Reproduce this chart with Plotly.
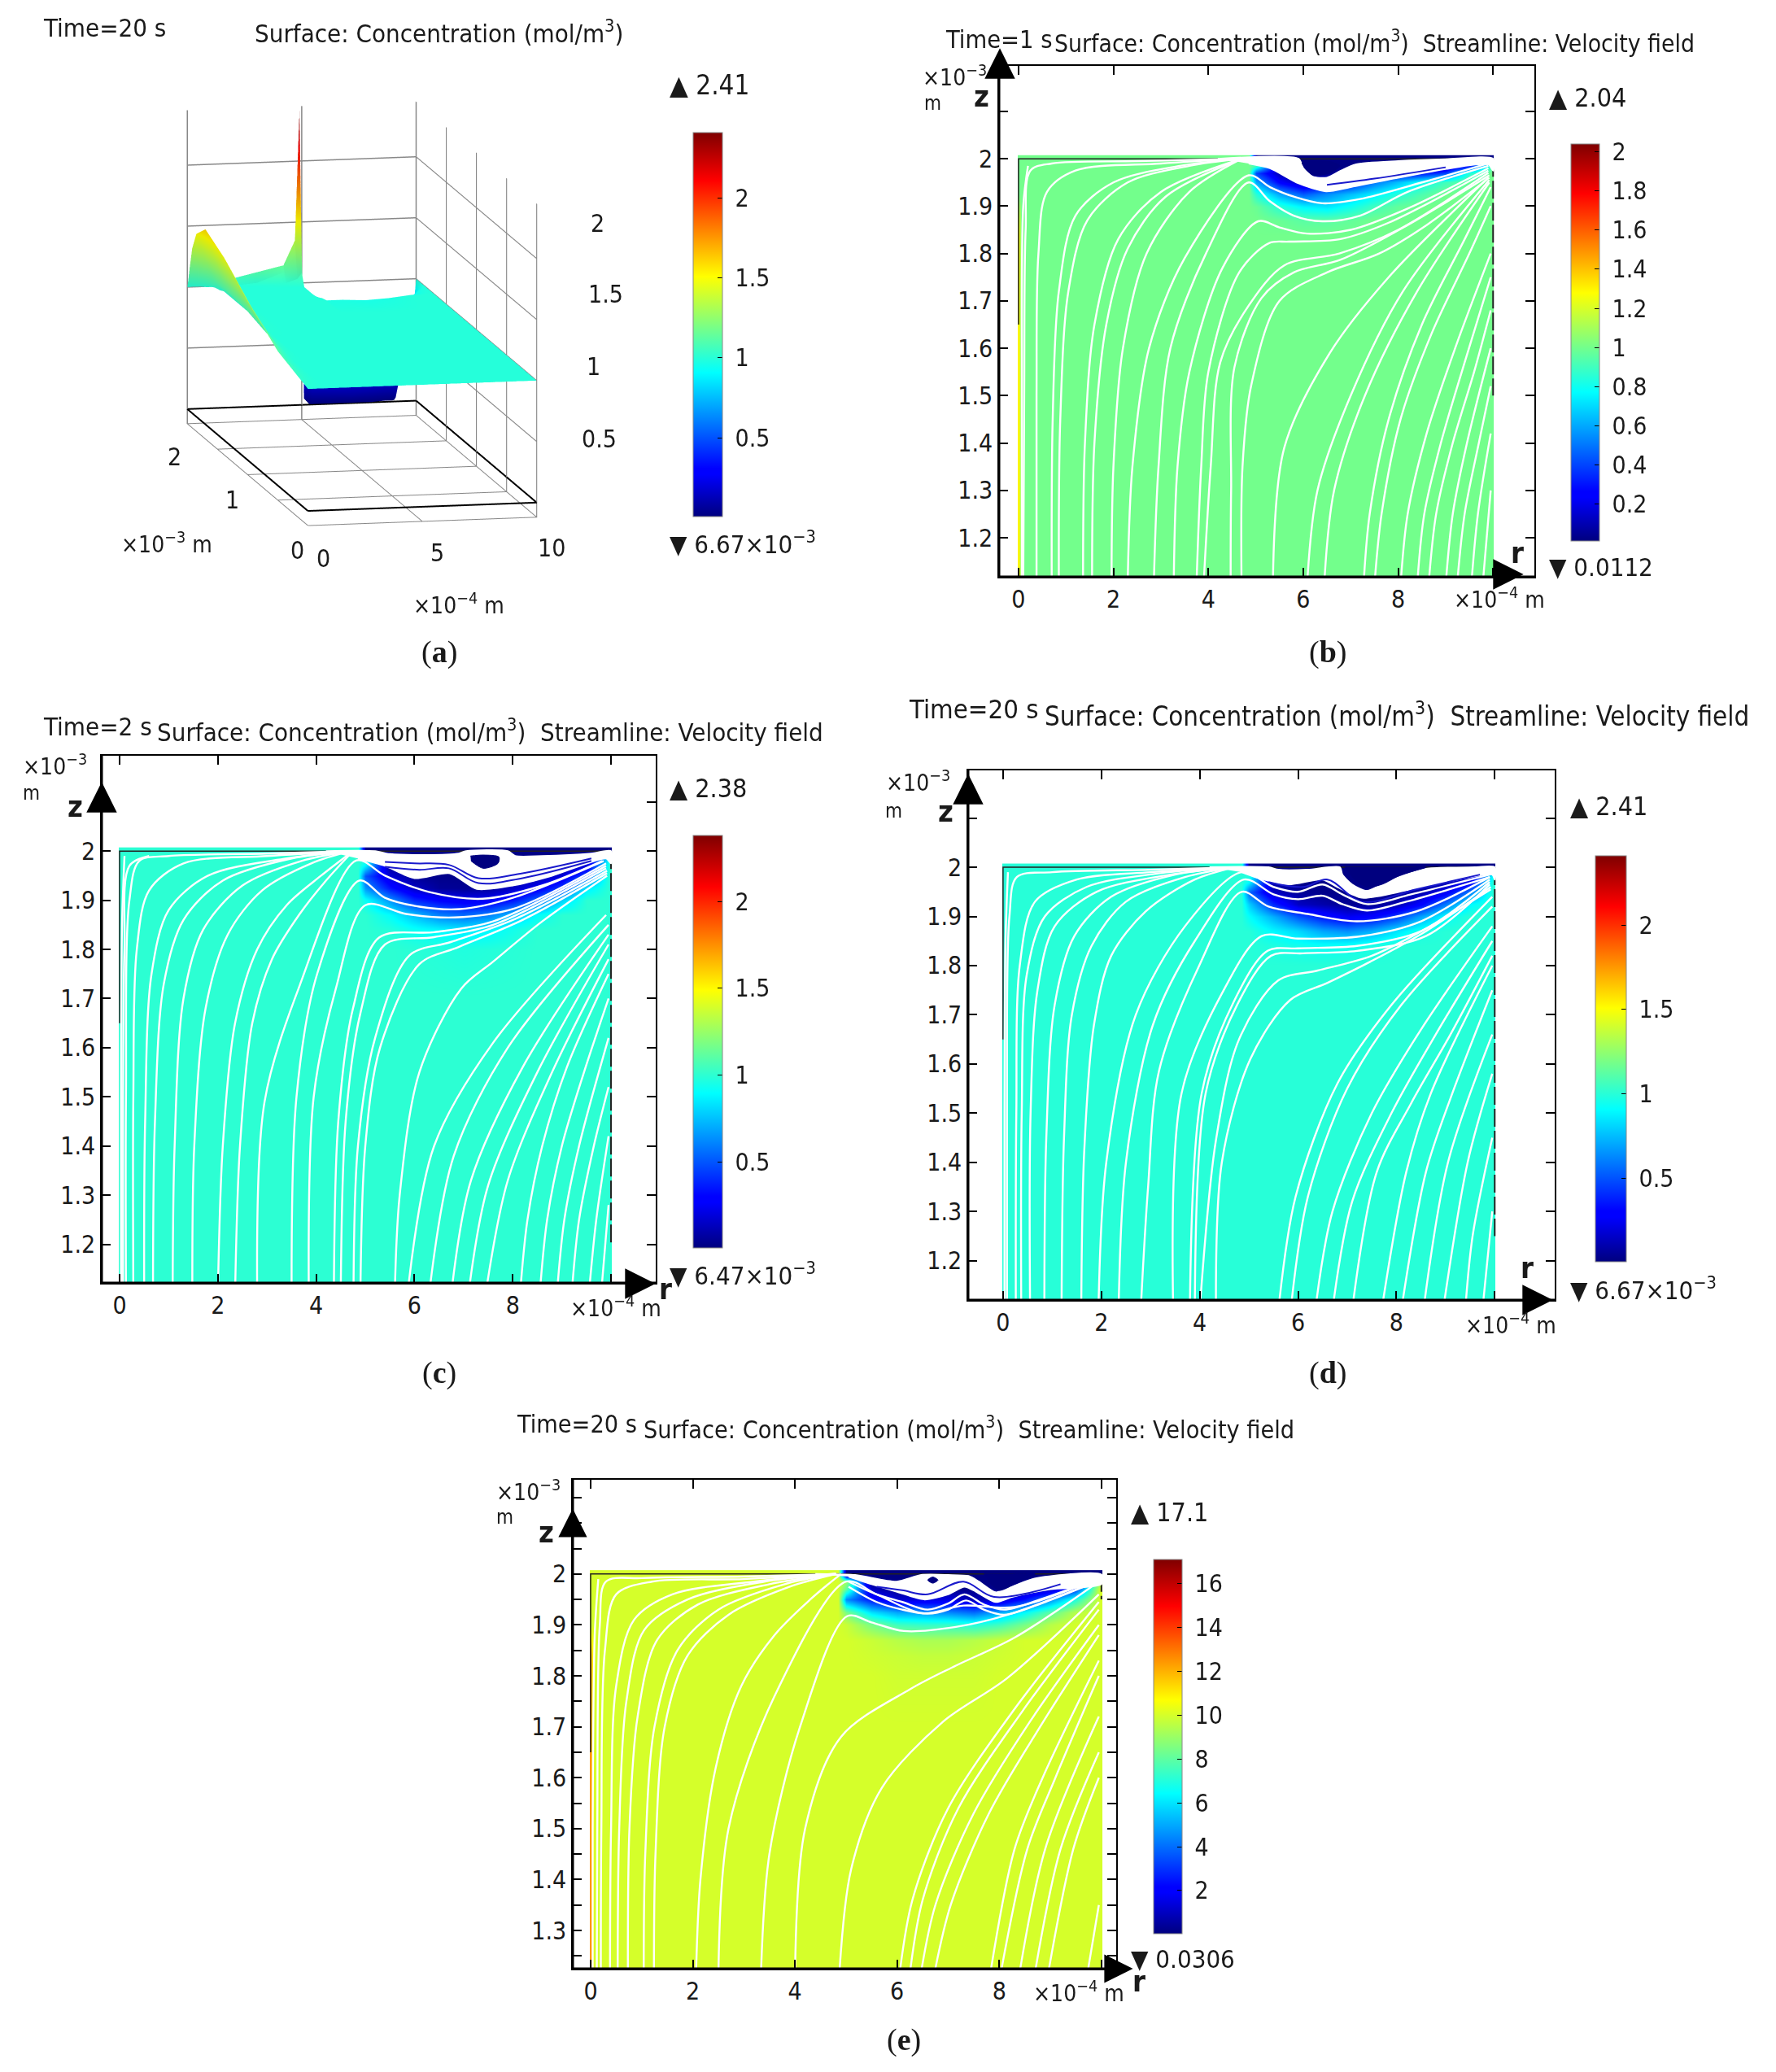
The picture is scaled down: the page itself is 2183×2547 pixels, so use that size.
import plotly.graph_objects as go

W, H = 2183, 2547
FONT = "DejaVu Sans Condensed"

# jet colours, the concentration colour bars
JET = [[0, "#00007f"], [0.11, "#0000ff"], [0.125, "#0000ff"], [0.375, "#00ffff"],
       [0.625, "#ffff00"], [0.875, "#ff0000"], [1, "#7f0000"]]

R_TICKS = [0, 2, 4, 6, 8, 10]
R_LABELS = ["0", "2", "4", "6", "8", ""]
Z_TICKS = [1.2, 1.3, 1.4, 1.5, 1.6, 1.7, 1.8, 1.9, 2.0, 2.1]
Z_LABELS = ["1.2", "1.3", "1.4", "1.5", "1.6", "1.7", "1.8", "1.9", "2", ""]
Z_TICKS_E = [1.25, 1.3, 1.35, 1.4, 1.45, 1.5, 1.55, 1.6, 1.65, 1.7, 1.75, 1.8, 1.85, 1.9, 1.95, 2.0, 2.05, 2.1, 2.15]
Z_LABELS_E = ["", "1.3", "", "1.4", "", "1.5", "", "1.6", "", "1.7", "", "1.8", "", "1.9", "", "2", "", "", ""]

CB_A = [0.5, 1, 1.5, 2]
CB_B = [0.2, 0.4, 0.6, 0.8, 1, 1.2, 1.4, 1.6, 1.8, 2]
CB_E = [2, 4, 6, 8, 10, 12, 14, 16]

# concentration field, rows go with Z_GRID, columns with R_GRID
R_GRID = [0, 0.03, 0.06, 4.85, 5, 5.5, 6, 6.5, 7, 7.5, 8, 8.5, 9, 9.5, 9.97, 10]
Z_GRID = [1.1, 1.7, 1.8, 1.84, 1.87, 1.9, 1.925, 1.95, 1.97, 1.985, 2.0]

FIELD_B = [
    [1.3, 1.1, 1, 1, 1, 1, 1, 1, 1, 1, 1, 1, 1, 1, 1, 1],
    [1.3, 1.1, 1, 1, 1, 1, 1, 1, 1, 1, 1, 1, 1, 1, 1, 1],
    [1.3, 1.1, 1, 1, 1, 1, 1, 1, 1, 1, 1, 1, 1, 1, 1, 1],
    [1.3, 1.1, 1, 1, 1, 1, 1, 1, 1, 1, 1, 1, 1, 1, 1, 1],
    [1.2, 1.1, 1, 1, 1, 0.98, 0.95, 0.95, 0.97, 1, 1, 1, 1, 1, 1, 1],
    [1.1, 1.05, 1, 1, 0.98, 0.85, 0.75, 0.72, 0.8, 0.9, 0.97, 1, 1, 1, 1, 1],
    [1, 1, 1, 1, 0.85, 0.6, 0.45, 0.55, 0.65, 0.75, 0.85, 0.93, 1, 1, 1, 1],
    [1, 1, 1, 1, 0.6, 0.25, 0.1, 0.2, 0.3, 0.5, 0.65, 0.8, 0.9, 0.98, 1, 1],
    [1, 1, 1, 1, 0.4, 0.1, 0.02, 0.02, 0.1, 0.2, 0.25, 0.3, 0.4, 0.85, 1, 1],
    [1, 1, 1, 1, 0.9, 0.1, 0.02, 0.02, 0.02, 0.02, 0.02, 0.02, 0.05, 0.3, 0.9, 1],
    [1, 1, 1, 1, 0.02, 0.02, 0.02, 0.02, 0.02, 0.02, 0.02, 0.02, 0.02, 0.02, 0.02, 0.02],
]
FIELD_C = [
    [1, 1, 1, 1, 1, 1, 1, 1, 1, 1, 1, 1, 1, 1, 1, 1],
    [1, 1, 1, 1, 1, 1, 1, 1, 1, 1, 1, 1, 1, 1, 1, 1],
    [1, 1, 1, 1, 1, 1, 0.99, 0.98, 0.97, 0.98, 0.99, 1, 1, 1, 1, 1],
    [1, 1, 1, 1, 1, 0.98, 0.92, 0.88, 0.85, 0.88, 0.94, 1, 1, 1, 1, 1],
    [1, 1, 1, 1, 1, 0.9, 0.75, 0.6, 0.55, 0.6, 0.75, 0.9, 1, 1, 1, 1],
    [1, 1, 1, 1, 0.92, 0.65, 0.4, 0.3, 0.25, 0.25, 0.35, 0.55, 0.8, 1, 1, 1],
    [1, 1, 1, 1, 0.65, 0.35, 0.15, 0.06, 0.05, 0.07, 0.15, 0.25, 0.45, 0.85, 1, 1],
    [1, 1, 1, 1, 0.5, 0.18, 0.05, 0.03, 0.03, 0.03, 0.05, 0.1, 0.2, 0.5, 1, 1],
    [1, 1, 1, 1, 0.85, 0.08, 0.02, 0.02, 0.02, 0.02, 0.02, 0.02, 0.05, 0.2, 1, 1],
    [1, 1, 1, 1, 1, 0.05, 0.02, 0.02, 0.02, 0.02, 0.02, 0.02, 0.02, 0.1, 0.9, 1],
    [1, 1, 1, 1, 0.02, 0.02, 0.02, 0.02, 0.02, 0.02, 0.02, 0.02, 0.02, 0.02, 0.02, 0.02],
]
FIELD_D = [
    [1, 1, 1, 1, 1, 1, 1, 1, 1, 1, 1, 1, 1, 1, 1, 1],
    [1, 1, 1, 1, 1, 1, 1, 1, 1, 1, 1, 1, 1, 1, 1, 1],
    [1, 1, 1, 1, 1, 1, 1, 1, 1, 1, 1, 1, 1, 1, 1, 1],
    [1, 1, 1, 1, 1, 0.98, 0.95, 0.93, 0.94, 0.97, 1, 1, 1, 1, 1, 1],
    [1, 1, 1, 1, 1, 0.9, 0.82, 0.7, 0.65, 0.72, 0.85, 0.97, 1, 1, 1, 1],
    [1, 1, 1, 1, 0.92, 0.72, 0.5, 0.35, 0.25, 0.3, 0.45, 0.7, 0.92, 1, 1, 1],
    [1, 1, 1, 1, 0.8, 0.4, 0.15, 0.1, 0.05, 0.05, 0.1, 0.3, 0.6, 0.9, 1, 1],
    [1, 1, 1, 1, 0.55, 0.15, 0.06, 0.03, 0.03, 0.03, 0.05, 0.1, 0.25, 0.6, 1, 1],
    [1, 1, 1, 1, 0.9, 0.08, 0.03, 0.03, 0.02, 0.02, 0.02, 0.03, 0.1, 0.25, 1, 1],
    [1, 1, 1, 1, 1, 0.05, 0.02, 0.02, 0.02, 0.02, 0.02, 0.02, 0.03, 0.1, 0.9, 1],
    [1, 1, 1, 1, 0.02, 0.02, 0.02, 0.02, 0.02, 0.02, 0.02, 0.02, 0.02, 0.02, 0.02, 0.02],
]
FIELD_E = [
    [12.5, 11, 10, 10, 10, 10, 10, 10, 10, 10, 10, 10, 10, 10, 10, 10],
    [12.5, 11, 10, 10, 10, 10, 10, 10, 10, 10, 10, 10, 10, 10, 10, 10],
    [12.5, 11, 10, 10, 10, 10, 9.9, 9.9, 9.9, 9.9, 10, 10, 10, 10, 10, 10],
    [12, 11, 10, 10, 10, 9.9, 9.8, 9.7, 9.7, 9.8, 9.9, 10, 10, 10, 10, 10],
    [11, 10.5, 10, 10, 10, 9.8, 9.5, 9.3, 9.3, 9.5, 9.8, 10, 10, 10, 10, 10],
    [10, 10, 10, 10, 9.8, 8.5, 7.5, 7.3, 7.3, 7, 7.5, 8.5, 9.5, 10, 10, 10],
    [10, 10, 10, 10, 8.5, 6, 5, 4.8, 4.5, 4, 5, 6.5, 8, 9.5, 10, 10],
    [10, 10, 10, 10, 4.5, 2.5, 1.2, 1.5, 1.5, 0.8, 1, 2.5, 4.5, 7, 10, 10],
    [10, 10, 10, 10, 8, 1, 0.3, 0.2, 0.2, 0.2, 0.2, 0.5, 1, 3, 10, 10],
    [10, 10, 10, 10, 9, 0.2, 0.1, 0.1, 0.1, 0.1, 0.1, 0.2, 0.4, 1, 9, 10],
    [10, 10, 10, 10, 0.05, 0.05, 0.05, 0.05, 0.05, 0.05, 0.05, 0.05, 0.05, 0.05, 0.05, 0.05],
]

# surface of panel (a)
R_A = [0, 0.15, 0.4, 0.8, 1.2, 1.8, 3, 4.2, 4.7, 4.9, 5.1, 5.3, 6, 7, 8, 9, 9.7, 10]
Z_A = [0, 0.5, 1, 1.4, 1.7, 1.85, 1.92, 1.96, 1.985, 2]
FIELD_A = [
    [1, 1, 1, 1, 1, 1, 1, 1, 1, 1, 1, 1, 1, 1, 1, 1, 1, 1],
    [1.1, 1.08, 1.03, 1, 1, 1, 1, 1, 1, 1, 1, 1, 1, 1, 1, 1, 1, 1],
    [1.3, 1.26, 1.15, 1.04, 1, 1, 1, 1, 1, 1, 1, 1, 1, 1, 1, 1, 1, 1],
    [1.5, 1.45, 1.3, 1.1, 1.02, 1, 1, 1, 1, 1, 1, 1, 1, 1, 1, 1, 1, 1],
    [1.6, 1.55, 1.35, 1.12, 1.02, 1, 1, 1, 1, 1, 1, 0.98, 0.98, 0.97, 0.98, 1, 1, 1],
    [1.5, 1.45, 1.28, 1.1, 1.02, 1, 1, 1, 1, 1, 0.95, 0.8, 0.75, 0.7, 0.75, 0.85, 0.97, 1],
    [1.35, 1.28, 1.15, 1.05, 1, 1, 1, 1, 1, 1, 0.7, 0.2, 0.15, 0.1, 0.15, 0.3, 0.85, 1],
    [1.18, 1.14, 1.07, 1.02, 1, 1, 1, 1.02, 1.05, 1.1, 0.4, 0.03, 0.02, 0.02, 0.02, 0.05, 0.7, 1],
    [1.06, 1.04, 1.01, 1, 1, 1, 1.02, 1.1, 1.25, 1.6, 0.1, 0.01, 0.01, 0.01, 0.01, 0.02, 0.5, 1],
    [1, 1, 1, 1, 1, 1.05, 1.1, 1.15, 1.35, 2.41, 0.05, 0.01, 0.01, 0.01, 0.01, 0.01, 0.4, 1],
]
FLOOR_R = [0, 10, 10, 0, 0]
FLOOR_Z = [0, 0, 2, 2, 0]

# streamlines as (r, z) point lists
STREAM_B = [
    ([0.07, 0.07, 0.1, 0.2], [1.1, 1.5, 1.9, 1.985]),
    ([0.1, 0.12, 0.15, 0.25, 0.7, 2.5, 4.7], [1.1, 1.5, 1.85, 1.975, 1.99, 1.995, 2]),
    ([0.38, 0.38, 0.42, 0.6, 1.2, 3, 4.7], [1.1, 1.5, 1.8, 1.93, 1.975, 1.99, 2]),
    ([0.7, 0.72, 0.85, 1.2, 2, 3.4, 4.7], [1.1, 1.45, 1.72, 1.88, 1.95, 1.985, 2]),
    ([0.85, 0.88, 1.05, 1.45, 2.3, 3.6, 4.7], [1.1, 1.45, 1.72, 1.87, 1.95, 1.985, 2]),
    ([1.36, 1.4, 1.6, 2.1, 3, 4.7], [1.1, 1.4, 1.65, 1.83, 1.93, 2]),
    ([1.55, 1.6, 1.85, 2.3, 3.1, 4.7], [1.1, 1.4, 1.65, 1.81, 1.92, 2]),
    ([1.96, 2, 2.2, 2.7, 3.6, 4.7], [1.1, 1.35, 1.6, 1.8, 1.93, 2]),
    ([2.3, 2.4, 2.75, 3.5, 4.85, 5.3, 5.8, 6.4, 7.2, 8.5, 9.9], [1.1, 1.35, 1.6, 1.79, 1.965, 1.94, 1.92, 1.906, 1.915, 1.95, 1.99]),
    ([2.85, 2.95, 3.2, 3.95, 4.85, 5.3, 5.8, 6.4, 7.2, 8.2, 9.9], [1.1, 1.35, 1.6, 1.8, 1.95, 1.91, 1.88, 1.868, 1.88, 1.93, 1.985]),
    ([3.27, 3.35, 3.6, 4.3, 5.05, 5.5, 6.08, 7, 8.2, 9.9], [1.1, 1.35, 1.55, 1.77, 1.868, 1.855, 1.842, 1.85, 1.895, 1.98]),
    ([3.75, 3.85, 4.0, 4.65, 5.28, 5.7, 6.76, 7.8, 9.9], [1.1, 1.35, 1.55, 1.76, 1.822, 1.825, 1.83, 1.865, 1.975]),
    ([3.9, 4.05, 4.25, 4.85, 5.6, 6.76, 8, 9.9], [1.1, 1.35, 1.57, 1.69, 1.775, 1.8, 1.85, 1.97]),
    ([4.47, 4.48, 4.55, 5.12, 5.8, 6.79, 8.2, 9.92], [1.1, 1.3, 1.56, 1.706, 1.76, 1.787, 1.86, 1.965]),
    ([4.7, 4.72, 4.9, 5.5, 6.5, 7.6, 8.6, 9.92], [1.1, 1.35, 1.52, 1.7, 1.76, 1.8, 1.86, 1.96]),
    ([5.36, 5.6, 6.56, 7.8, 9.9], [1.1, 1.39, 1.59, 1.75, 1.96]),
    ([6.08, 6.3, 7, 8.1, 9.92], [1.1, 1.3, 1.5, 1.72, 1.955]),
    ([6.44, 6.65, 7.3, 8.4, 9.92], [1.1, 1.3, 1.5, 1.72, 1.95]),
    ([7.27, 7.4, 7.8, 8.5, 9.4, 9.95], [1.1, 1.25, 1.45, 1.65, 1.83, 1.94]),
    ([7.5, 7.65, 8.05, 8.7, 9.5, 9.95], [1.1, 1.25, 1.45, 1.63, 1.8, 1.9]),
    ([8.05, 8.2, 8.6, 9.2, 9.95], [1.1, 1.25, 1.42, 1.6, 1.8]),
    ([8.4, 8.55, 8.9, 9.4, 9.95], [1.1, 1.25, 1.4, 1.57, 1.75]),
    ([8.64, 8.8, 9.15, 9.6, 9.95], [1.1, 1.25, 1.4, 1.55, 1.68]),
    ([9, 9.15, 9.45, 9.95], [1.1, 1.25, 1.4, 1.6]),
    ([9.24, 9.4, 9.7, 9.95], [1.1, 1.25, 1.4, 1.52]),
    ([9.54, 9.68, 9.95], [1.1, 1.25, 1.42]),
    ([9.78, 9.95], [1.1, 1.3]),
]
STREAM_C = [
    ([0.03, 0.03, 0.05, 0.1], [1.1, 1.5, 1.85, 1.99]),
    ([0.07, 0.07, 0.1, 0.2, 0.6], [1.1, 1.5, 1.8, 1.97, 1.99]),
    ([0.13, 0.13, 0.2, 0.4, 1, 3, 4.7], [1.1, 1.5, 1.9, 1.98, 1.99, 1.995, 2]),
    ([0.28, 0.28, 0.35, 0.6, 1.3, 3, 4.7], [1.1, 1.5, 1.8, 1.92, 1.975, 1.99, 2]),
    ([0.5, 0.52, 0.65, 1, 1.8, 3.4, 4.7], [1.1, 1.45, 1.75, 1.88, 1.95, 1.985, 2]),
    ([0.68, 0.72, 0.9, 1.3, 2.1, 3.5, 4.7], [1.1, 1.45, 1.73, 1.86, 1.94, 1.985, 2]),
    ([1.08, 1.12, 1.3, 1.7, 2.5, 3.7, 4.7], [1.1, 1.4, 1.7, 1.84, 1.93, 1.98, 2]),
    ([1.48, 1.52, 1.75, 2.2, 2.9, 3.9, 4.7], [1.1, 1.4, 1.68, 1.83, 1.92, 1.975, 2]),
    ([2, 2.1, 2.35, 2.8, 3.4, 4.1, 4.75], [1.1, 1.4, 1.65, 1.8, 1.89, 1.95, 2]),
    ([2.35, 2.45, 2.7, 3.1, 3.65, 4.2, 4.75], [1.1, 1.4, 1.65, 1.78, 1.87, 1.94, 2]),
    ([2.8, 2.95, 3.67, 4.82, 5.4, 6.29, 7.39, 8.6, 9.82], [1.1, 1.49, 1.728, 1.981, 1.95, 1.917, 1.903, 1.93, 1.98]),
    ([3.5, 3.6, 4.02, 4.88, 5.4, 6.1, 6.93, 8, 9.85], [1.1, 1.5, 1.75, 1.94, 1.905, 1.887, 1.882, 1.905, 1.98]),
    ([3.85, 3.95, 4.4, 5, 5.83, 6.82, 8.03, 9.9], [1.1, 1.5, 1.72, 1.89, 1.872, 1.865, 1.883, 1.975]),
    ([4.36, 4.45, 4.75, 5.28, 6.4, 7.6, 9.9], [1.1, 1.45, 1.68, 1.824, 1.835, 1.857, 1.97]),
    ([4.5, 4.6, 4.9, 5.4, 6.4, 7.6, 9.9], [1.1, 1.45, 1.67, 1.81, 1.825, 1.85, 1.965]),
    ([4.76, 4.85, 5.2, 5.9, 6.74, 8.05, 9.92], [1.1, 1.4, 1.62, 1.788, 1.815, 1.862, 1.96]),
    ([4.9, 5, 5.3, 6.1, 6.9, 8.2, 9.92], [1.1, 1.4, 1.6, 1.77, 1.805, 1.86, 1.955]),
    ([5.6, 5.7, 6.1, 6.95, 7.6, 8.6, 9.92], [1.1, 1.3, 1.55, 1.72, 1.775, 1.857, 1.95]),
    ([5.86, 6.4, 7.6, 9.9], [1.1, 1.4, 1.61, 1.87]),
    ([6.3, 6.8, 7.9, 9.95], [1.1, 1.38, 1.6, 1.85]),
    ([6.75, 7.15, 8.2, 9.95], [1.1, 1.33, 1.56, 1.83]),
    ([7.1, 7.5, 8.5, 9.95], [1.1, 1.32, 1.55, 1.81]),
    ([7.45, 7.9, 8.8, 9.95], [1.1, 1.33, 1.55, 1.78]),
    ([8.15, 8.3, 8.6, 9.1, 9.95], [1.1, 1.25, 1.4, 1.56, 1.75]),
    ([8.55, 8.7, 9, 9.45, 9.95], [1.1, 1.25, 1.4, 1.55, 1.7]),
    ([8.9, 9.05, 9.35, 9.95], [1.1, 1.25, 1.4, 1.62]),
    ([9.2, 9.35, 9.65, 9.95], [1.1, 1.25, 1.4, 1.52]),
    ([9.55, 9.7, 9.95], [1.1, 1.25, 1.42]),
    ([9.8, 9.95], [1.1, 1.28]),
]
STREAM_D = [
    ([0.03, 0.03, 0.05, 0.1], [1.1, 1.5, 1.85, 1.99]),
    ([0.08, 0.08, 0.13, 0.28, 1, 3, 4.7], [1.1, 1.5, 1.9, 1.98, 1.99, 1.995, 2]),
    ([0.26, 0.27, 0.34, 0.65, 1.5, 3, 4.7], [1.1, 1.5, 1.8, 1.93, 1.975, 1.99, 2]),
    ([0.37, 0.38, 0.48, 0.85, 1.7, 3.2, 4.7], [1.1, 1.5, 1.78, 1.9, 1.96, 1.988, 2]),
    ([0.55, 0.56, 0.7, 1.05, 1.9, 3.4, 4.7], [1.1, 1.5, 1.75, 1.88, 1.95, 1.985, 2]),
    ([0.84, 0.88, 1.05, 1.45, 2.2, 3.5, 4.7], [1.1, 1.45, 1.72, 1.86, 1.94, 1.985, 2]),
    ([1.19, 1.24, 1.4, 1.8, 2.5, 3.7, 4.7], [1.1, 1.45, 1.7, 1.84, 1.93, 1.98, 2]),
    ([1.59, 1.65, 1.85, 2.2, 2.9, 3.9, 4.7], [1.1, 1.42, 1.68, 1.82, 1.91, 1.975, 2]),
    ([1.94, 2.1, 2.7, 3.7, 4.85, 5.5, 6, 6.5, 6.9, 7.4, 8.3, 9.9], [1.1, 1.4, 1.7, 1.88, 1.99, 1.96, 1.95, 1.965, 1.945, 1.925, 1.945, 1.985]),
    ([2.35, 2.5, 3.05, 3.9, 4.9, 5.5, 6, 6.5, 6.9, 7.4, 8.2, 9.9], [1.1, 1.4, 1.68, 1.85, 1.975, 1.945, 1.935, 1.942, 1.925, 1.912, 1.93, 1.98]),
    ([2.8, 2.95, 3.17, 3.98, 4.85, 5.4, 6.2, 7.2, 8.4, 9.9], [1.1, 1.35, 1.585, 1.798, 1.95, 1.92, 1.905, 1.89, 1.91, 1.98]),
    ([3.46, 3.63, 4.45, 5.26, 6, 7.3, 8.5, 9.9], [1.1, 1.54, 1.743, 1.86, 1.855, 1.86, 1.89, 1.975]),
    ([3.8, 4.04, 4.68, 5.38, 6, 7.2, 8.5, 9.9], [1.1, 1.54, 1.724, 1.83, 1.835, 1.84, 1.87, 1.97]),
    ([3.9, 4.12, 4.76, 5.45, 6.1, 7.2, 8.6, 9.9], [1.1, 1.54, 1.72, 1.82, 1.825, 1.83, 1.86, 1.965]),
    ([4, 4.33, 4.8, 5.6, 6.4, 7.5, 8.6, 9.92], [1.1, 1.445, 1.65, 1.77, 1.79, 1.82, 1.875, 1.955]),
    ([4.33, 4.45, 5.03, 5.84, 6.6, 7.47, 8.6, 9.92], [1.1, 1.4, 1.61, 1.73, 1.765, 1.808, 1.87, 1.96]),
    ([5.6, 5.95, 6.8, 7.9, 9.95], [1.1, 1.33, 1.56, 1.72, 1.94]),
    ([5.85, 6.2, 7, 8.1, 9.95], [1.1, 1.33, 1.55, 1.72, 1.92]),
    ([6.35, 6.7, 7.5, 8.5, 9.95], [1.1, 1.3, 1.5, 1.67, 1.88]),
    ([6.7, 7.1, 7.9, 8.8, 9.95], [1.1, 1.32, 1.5, 1.66, 1.85]),
    ([7.1, 7.6, 8.3, 9.1, 9.95], [1.1, 1.38, 1.52, 1.66, 1.82]),
    ([7.7, 8.2, 8.7, 9.95], [1.1, 1.38, 1.54, 1.8]),
    ([8.1, 8.6, 9.1, 9.95], [1.1, 1.38, 1.53, 1.75]),
    ([8.55, 9.05, 9.95], [1.1, 1.4, 1.66]),
    ([8.95, 9.45, 9.95], [1.1, 1.4, 1.58]),
    ([9.4, 9.55, 9.95], [1.1, 1.25, 1.45]),
    ([9.75, 9.95], [1.1, 1.3]),
]
STREAM_E = [
    ([0.04, 0.04, 0.08, 0.15], [1.2, 1.5, 1.88, 1.99]),
    ([0.12, 0.13, 0.18, 0.3, 1, 3, 4.8], [1.2, 1.5, 1.9, 1.985, 1.992, 1.995, 2]),
    ([0.2, 0.21, 0.28, 0.5, 1.2, 3, 4.8], [1.2, 1.5, 1.85, 1.96, 1.985, 1.99, 2]),
    ([0.38, 0.4, 0.5, 0.85, 1.6, 3.2, 4.8], [1.2, 1.5, 1.78, 1.91, 1.96, 1.985, 2]),
    ([0.53, 0.56, 0.7, 1.05, 1.9, 3.4, 4.8], [1.2, 1.5, 1.75, 1.89, 1.95, 1.985, 2]),
    ([0.73, 0.76, 0.92, 1.3, 2.1, 3.5, 4.8], [1.2, 1.5, 1.72, 1.87, 1.94, 1.98, 2]),
    ([1.04, 1.07, 1.25, 1.7, 2.5, 3.8, 4.8], [1.2, 1.45, 1.7, 1.85, 1.93, 1.98, 2]),
    ([1.24, 1.27, 1.45, 1.9, 2.7, 3.9, 4.8], [1.2, 1.45, 1.7, 1.84, 1.92, 1.975, 2]),
    ([2.06, 2.15, 2.45, 2.95, 3.6, 4.3, 4.9], [1.2, 1.4, 1.62, 1.78, 1.88, 1.95, 2]),
    ([2.5, 2.7, 3.6, 5, 5.6, 6.5, 7.3, 8.3, 9.9], [1.2, 1.5, 1.76, 1.985, 1.96, 1.923, 1.938, 1.935, 1.99]),
    ([3.33, 3.5, 4.1, 5.02, 5.5, 6.13, 7.15, 8.17, 9.9], [1.2, 1.45, 1.7, 1.917, 1.905, 1.888, 1.896, 1.92, 1.985]),
    ([4, 4.2, 4.9, 6.26, 7.15, 8.3, 9.95], [1.2, 1.5, 1.68, 1.774, 1.82, 1.875, 1.985]),
    ([4.86, 5.1, 5.7, 6.9, 8.15, 9.95], [1.2, 1.42, 1.58, 1.71, 1.795, 1.96]),
    ([6.03, 6.3, 7, 8.3, 9.95], [1.2, 1.36, 1.54, 1.735, 1.945]),
    ([6.23, 6.5, 7.2, 8.45, 9.95], [1.2, 1.36, 1.54, 1.73, 1.93]),
    ([6.44, 6.75, 7.5, 8.6, 9.95], [1.2, 1.35, 1.53, 1.71, 1.9]),
    ([6.7, 7.05, 7.8, 8.8, 9.95], [1.2, 1.35, 1.53, 1.7, 1.88]),
    ([7.8, 8.3, 8.85, 9.95], [1.2, 1.46, 1.6, 1.83]),
    ([8, 8.55, 9.1, 9.95], [1.2, 1.46, 1.6, 1.8]),
    ([8.37, 8.9, 9.95], [1.2, 1.46, 1.72]),
    ([8.67, 9.2, 9.95], [1.2, 1.46, 1.65]),
    ([8.93, 9.45, 9.95], [1.2, 1.46, 1.6]),
    ([9.7, 9.95], [1.2, 1.35]),
    ([5.05, 5.6, 6.1, 6.6, 7, 7.32, 7.7, 8.1, 8.8, 9.9], [1.985, 1.96, 1.945, 1.93, 1.942, 1.96, 1.94, 1.93, 1.95, 1.99]),
    ([5.05, 5.6, 6.1, 6.6, 7, 7.35, 7.7, 8.1, 8.9, 9.9], [1.975, 1.945, 1.93, 1.922, 1.93, 1.948, 1.93, 1.92, 1.945, 1.985]),
]

# white bands of packed streamlines under the surface, and the dark pockets
BAND_B = ([4.2, 5.9, 6.0, 6.2, 6.5, 6.8, 7.1, 8, 9, 10, 10, 9.9, 8, 7, 6.48, 5.9, 5.3, 4.85],
          [2, 2, 1.98, 1.962, 1.96, 1.975, 1.988, 1.995, 1.999, 2, 1.975, 1.988, 1.96, 1.94, 1.931, 1.948, 1.98, 1.99])
POCKET_B = ([5.97, 6.2, 6.6, 6.77, 6.55, 6.2, 5.97], [1.997, 1.997, 1.993, 1.985, 1.97, 1.966, 1.99])
BAND_C = ([4.2, 5.2, 5.5, 6.2, 6.9, 7.05, 7.9, 8.05, 8.6, 9.6, 10, 10, 9.9, 8.8, 8, 7.27, 6.72, 6, 5.4, 4.85],
          [2, 2, 1.994, 1.992, 1.995, 2, 2, 1.99, 1.99, 1.995, 2, 1.975, 1.985, 1.95, 1.93, 1.923, 1.955, 1.945, 1.97, 1.985])
POCKET_C = ([7.14, 7.4, 7.72, 7.7, 7.4, 7.15], [1.99, 1.992, 1.988, 1.975, 1.965, 1.98])
BAND_D = ([4.2, 5.4, 5.6, 6.2, 6.85, 6.9, 7.1, 7.4, 7.8, 8.2, 8.6, 9.6, 10, 10, 9.95, 8.3, 7.3, 6.8, 6.5, 5.8, 5.13, 4.85],
          [2, 2, 1.995, 1.995, 2, 1.985, 1.965, 1.952, 1.97, 1.985, 1.997, 2, 2, 1.975, 1.985, 1.955, 1.938, 1.96, 1.975, 1.965, 1.98, 1.99])
POCKET_D = ([6.95, 7.3, 7.7, 8.2, 8.6, 8.1, 7.7, 7.4, 7.1], [2, 2, 2, 2, 2, 1.985, 1.965, 1.96, 1.98])
BAND_E = ([4.4, 5.18, 5.99, 6.47, 7, 7.4, 7.6, 7.93, 8.25, 8.69, 10, 10, 9, 8.25, 7.93, 7.55, 7.32, 7, 6.53, 6, 5.5, 5.05],
          [2, 1.998, 1.985, 1.998, 1.998, 1.996, 1.985, 1.964, 1.975, 1.991, 1.999, 1.98, 1.97, 1.955, 1.945, 1.965, 1.975, 1.96, 1.95, 1.965, 1.98, 1.995])
POCKET_E = ([6.6, 6.7, 6.8, 6.7, 6.6], [1.988, 1.994, 1.988, 1.982, 1.988])
POCKET_E2 = ([7.7, 8.2, 8.7, 8.3, 8, 7.8], [2, 2, 2, 1.98, 1.968, 1.985])

# thin blue traces left between the packed lines
BLUE_C = [([5.4, 6, 6.7, 7.3, 8.2, 9.6], [1.978, 1.975, 1.972, 1.945, 1.955, 1.985]),
          ([5.4, 6.1, 6.7, 7.3, 8.2, 9.6], [1.968, 1.962, 1.965, 1.935, 1.945, 1.98])]
BLUE_D = [([5.4, 6.1, 6.6, 7.3, 8.4, 9.7], [1.97, 1.96, 1.975, 1.93, 1.955, 1.985])]
BLUE_E = [([5.6, 6.1, 6.6, 7.3, 7.9, 9.2], [1.975, 1.968, 1.96, 1.985, 1.955, 1.98])]
BLUE_B = [([6.5, 7.5, 9], [1.945, 1.958, 1.982])]


def pxx(x):
    return x / W


def pxy(y):
    return 1 - y / H


annotations = []
shapes = []


def text(x, y, s, size=27, anchor="left", family=FONT, bold=False):
    if bold:
        s = "<b>" + s + "</b>"
    annotations.append(dict(x=pxx(x), y=pxy(y), xref="paper", yref="paper", text=s, showarrow=False,
                            xanchor=anchor, yanchor="middle", font=dict(family=family, size=size, color="#1a1a1a")))


def triangle(cx, cy, size, up):
    # axis arrow heads, paper coordinates
    if up:
        pts = [(cx - size * 0.55, cy + size * 0.55), (cx + size * 0.55, cy + size * 0.55), (cx, cy - size * 0.55)]
    else:
        pts = [(cx - size * 0.55, cy - size * 0.55), (cx - size * 0.55, cy + size * 0.55), (cx + size * 0.55, cy)]
    path = "M " + " L ".join("%.5f %.5f" % (pxx(a), pxy(b)) for a, b in pts) + " Z"
    shapes.append(dict(type="path", path=path, xref="paper", yref="paper", fillcolor="black", line=dict(width=0)))


def colorbar(box, vals):
    x0, x1, y0, y1 = box
    return dict(x=pxx(x0), xref="paper", xanchor="left", y=pxy(y1), yref="paper", yanchor="bottom",
                len=(y1 - y0) / H, lenmode="fraction", thickness=x1 - x0, thicknessmode="pixels",
                tickvals=vals, ticktext=["&nbsp;" + str(v) for v in vals], ticks="inside", ticklen=6, tickcolor="black",
                outlinecolor="#888888", outlinewidth=1, tickfont=dict(family=FONT, size=30, color="#1a1a1a"),
                xpad=0, ypad=0)


fig = go.Figure()

# panel (a)
fig.add_trace(go.Surface(x=R_A, y=Z_A, z=FIELD_A, colorscale=JET, cmin=0.00667, cmax=2.41, scene="scene",
                         colorbar=colorbar((852, 888, 163, 635), CB_A),
                         lighting=dict(ambient=0.92, diffuse=0.15, specular=0.02, fresnel=0),
                         contours=dict(x=dict(highlight=False), y=dict(highlight=False), z=dict(highlight=False))))
fig.add_trace(go.Scatter3d(x=FLOOR_R, y=FLOOR_Z, z=[0, 0, 0, 0, 0], mode="lines", scene="scene",
                           line=dict(color="black", width=4), showlegend=False))
scene_axis = dict(showbackground=False, showline=False, gridcolor="#888888", gridwidth=3, zeroline=False,
                  ticks="", showticklabels=False, title="", showspikes=False)
layout_scene = dict(domain=dict(x=[pxx(45), pxx(845)], y=[pxy(778), pxy(18)]),
                    xaxis=dict(scene_axis, range=[0, 10], tickvals=[0, 5, 10]),
                    yaxis=dict(scene_axis, range=[0, 2], tickvals=[0, 0.5, 1, 1.5, 2]),
                    zaxis=dict(scene_axis, range=[-0.12, 2.45], tickvals=CB_A),
                    aspectmode="manual", aspectratio=dict(x=0.756, y=1.915, z=1.03),
                    camera=dict(eye=dict(x=-0.437, y=-2.1, z=0.35), center=dict(x=0, y=0, z=-0.033),
                                projection=dict(type="orthographic")))
text(51, 34, "Time=20 s", 31)
text(311, 39, "Surface: Concentration (mol/m<sup>3</sup>)", 31)
text(821, 105, "▲ 2.41", 33)
text(821, 667, "▼ 6.67×10<sup>−3</sup>", 31)
text(205, 668, "×10<sup>−3</sup> m", 28, "center")
text(564, 743, "×10<sup>−4</sup> m", 28, "center")
for x, y, s in [(734, 275, "2"), (745, 362, "1.5"), (729, 450, "1"), (736, 539, "0.5"),
                (214, 562, "2"), (285, 615, "1"), (365, 677, "0"),
                (397, 686, "0"), (537, 680, "5"), (678, 674, "10")]:
    text(x, y, s, 30, "center")
text(540, 801, "(<b>a</b>)", 38, "center", "Liberation Serif")

# the four 2D panels: frame in pixels, axis ranges, field, streamlines
PANELS = [
    dict(n=2, frame=(1228, 1886, 81, 709), xr=[-0.41, 10.87], yr=[1.1176, 2.196], field=FIELD_B, cmax=2.04, cmin=0.0112,
         stream=STREAM_B, band=BAND_B, pockets=[POCKET_B], blue=BLUE_B, zt=Z_TICKS, zl=Z_LABELS,
         cb=(1931, 1966, 177, 665), cbv=CB_B, edge=1.5),
    dict(n=3, frame=(125, 806, 929, 1577), xr=[-0.364, 10.91], yr=[1.1215, 2.194], field=FIELD_C, cmax=2.38, cmin=0.00647,
         stream=STREAM_C, band=BAND_C, pockets=[POCKET_C], blue=BLUE_C, zt=Z_TICKS, zl=Z_LABELS,
         cb=(852, 888, 1027, 1534), cbv=CB_A, edge=1.2),
    dict(n=4, frame=(1190, 1911, 947, 1598), xr=[-0.71, 11.22], yr=[1.12, 2.197], field=FIELD_D, cmax=2.41, cmin=0.00667,
         stream=STREAM_D, band=BAND_D, pockets=[POCKET_D], blue=BLUE_D, zt=Z_TICKS, zl=Z_LABELS,
         cb=(1961, 1999, 1052, 1551), cbv=CB_A, edge=1.25),
    dict(n=5, frame=(704, 1372, 1819, 2420), xr=[-0.35, 10.29], yr=[1.225, 2.185], field=FIELD_E, cmax=17.1, cmin=0.0306,
         stream=STREAM_E, band=BAND_E, pockets=[POCKET_E, POCKET_E2], blue=BLUE_E, zt=Z_TICKS_E, zl=Z_LABELS_E,
         cb=(1418, 1453, 1917, 2377), cbv=CB_E, edge=1.95),
]

layout_axes = {}
for p in PANELS:
    xname, yname = "x%d" % p["n"], "y%d" % p["n"]
    x0, x1, y0, y1 = p["frame"]
    axis = dict(showgrid=False, zeroline=False, showline=True, linecolor="black", linewidth=1.5, mirror="ticks",
                ticks="inside", ticklen=11, tickwidth=2, tickcolor="black",
                tickfont=dict(family=FONT, size=30, color="#1a1a1a"))
    layout_axes["xaxis%d" % p["n"]] = dict(axis, domain=[pxx(x0), pxx(x1)], anchor=yname, range=p["xr"],
                                           tickvals=R_TICKS, ticktext=R_LABELS)
    layout_axes["yaxis%d" % p["n"]] = dict(axis, domain=[pxy(y1), pxy(y0)], anchor=xname, range=p["yr"],
                                           tickvals=p["zt"], ticktext=p["zl"])
    fig.add_trace(go.Heatmap(x=R_GRID, y=Z_GRID, z=p["field"], colorscale=JET, zmin=p["cmin"], zmax=p["cmax"],
                             zsmooth="best", xaxis=xname, yaxis=yname, colorbar=colorbar(p["cb"], p["cbv"])))
    # domain boundary: solid along the top and upper left, broken on the right
    fig.add_trace(go.Scatter(x=[0, 0, 10], y=[1.65, 2, 2], mode="lines", xaxis=xname, yaxis=yname,
                             line=dict(color="#222222", width=1.5), showlegend=False))
    fig.add_trace(go.Scatter(x=[10, 10], y=[2, p["edge"]], mode="lines", xaxis=xname, yaxis=yname,
                             line=dict(color="#222222", width=2, dash="22px,5px"), showlegend=False))
    band = p["band"]
    fig.add_trace(go.Scatter(x=band[0], y=band[1], mode="lines", fill="toself", fillcolor="white", xaxis=xname, yaxis=yname,
                             line=dict(color="white", width=2, shape="spline", smoothing=0.7), showlegend=False))
    for pocket in p["pockets"]:
        fig.add_trace(go.Scatter(x=pocket[0], y=pocket[1], mode="lines", fill="toself", fillcolor="#00007f",
                                 xaxis=xname, yaxis=yname, showlegend=False,
                                 line=dict(color="#00007f", width=1, shape="spline", smoothing=0.8)))
    for rs, zs in p["blue"]:
        fig.add_trace(go.Scatter(x=rs, y=zs, mode="lines", xaxis=xname, yaxis=yname, showlegend=False,
                                 line=dict(color="#1a1acc", width=2, shape="spline")))
    # one trace per panel, lines split by None
    sx, sy = [], []
    for rs, zs in p["stream"]:
        sx += rs + [None]
        sy += zs + [None]
    fig.add_trace(go.Scatter(x=sx, y=sy, mode="lines", xaxis=xname, yaxis=yname, showlegend=False,
                             line=dict(color="white", width=2.4, shape="spline", smoothing=0.9)))
    # heavier left and bottom axes
    shapes.append(dict(type="line", xref="paper", yref="paper", x0=pxx(x0), x1=pxx(x0), y0=pxy(y0), y1=pxy(y1),
                       line=dict(color="black", width=3)))
    shapes.append(dict(type="line", xref="paper", yref="paper", x0=pxx(x0), x1=pxx(x1), y0=pxy(y1), y1=pxy(y1),
                       line=dict(color="black", width=3)))

# panel (b)
text(1160, 48, "Time=1 s", 30.5)
text(1294, 52, "Surface: Concentration (mol/m<sup>3</sup>)  Streamline: Velocity field", 29.8)
text(1902, 120, "▲ 2.04", 32)
text(1902, 697, "▼ 0.0112", 31)
text(1132, 93, "×10<sup>−3</sup>", 28)
text(1134, 127, "m", 24)
text(1206, 119, "z", 36, "center", bold=True)
text(1865, 680, "r", 36, "center", bold=True)
text(1785, 735, "×10<sup>−4</sup> m", 28)
triangle(1229, 78, 34, True)
triangle(1854, 706, 34, False)
text(1632, 801, "(<b>b</b>)", 38, "center", "Liberation Serif")

# panel (c)
text(51, 893, "Time=2 s", 31)
text(191, 898, "Surface: Concentration (mol/m<sup>3</sup>)  Streamline: Velocity field", 31)
text(821, 969, "▲ 2.38", 32)
text(821, 1566, "▼ 6.47×10<sup>−3</sup>", 31)
text(26, 940, "×10<sup>−3</sup>", 28)
text(26, 975, "m", 24)
text(92, 992, "z", 36, "center", bold=True)
text(818, 1584, "r", 36, "center", bold=True)
text(699, 1606, "×10<sup>−4</sup> m", 28)
triangle(125, 980, 34, True)
triangle(787, 1578, 34, False)
text(540, 1687, "(<b>c</b>)", 38, "center", "Liberation Serif")

# panel (d)
text(1115, 872, "Time=20 s", 32.7)
text(1282, 878, "Surface: Concentration (mol/m<sup>3</sup>)  Streamline: Velocity field", 32.8)
text(1928, 991, "▲ 2.41", 32)
text(1928, 1584, "▼ 6.67×10<sup>−3</sup>", 31)
text(1087, 960, "×10<sup>−3</sup>", 28)
text(1086, 997, "m", 24)
text(1162, 997, "z", 36, "center", bold=True)
text(1877, 1558, "r", 36, "center", bold=True)
text(1799, 1628, "×10<sup>−4</sup> m", 28)
triangle(1190, 970, 34, True)
triangle(1890, 1598, 34, False)
text(1632, 1687, "(<b>d</b>)", 38, "center", "Liberation Serif")

# panel (e)
text(633, 1750, "Time=20 s", 30.3)
text(789, 1755, "Surface: Concentration (mol/m<sup>3</sup>)  Streamline: Velocity field", 30.3)
text(1388, 1859, "▲ 17.1", 32)
text(1388, 2408, "▼ 0.0306", 31)
text(608, 1832, "×10<sup>−3</sup>", 28)
text(608, 1865, "m", 24)
text(671, 1883, "z", 36, "center", bold=True)
text(1400, 2435, "r", 36, "center", bold=True)
text(1268, 2448, "×10<sup>−4</sup> m", 28)
triangle(704, 1872, 32, True)
triangle(1375, 2420, 32, False)
text(1111, 2507, "(<b>e</b>)", 38, "center", "Liberation Serif")

fig.update_layout(width=W, height=H, margin=dict(l=0, r=0, t=0, b=0), paper_bgcolor="white", plot_bgcolor="white",
                  showlegend=False, scene=layout_scene, annotations=annotations, shapes=shapes, **layout_axes)
fig.write_html("out.html", config={"displayModeBar": False}, post_script="document.body.style.margin='0';")
